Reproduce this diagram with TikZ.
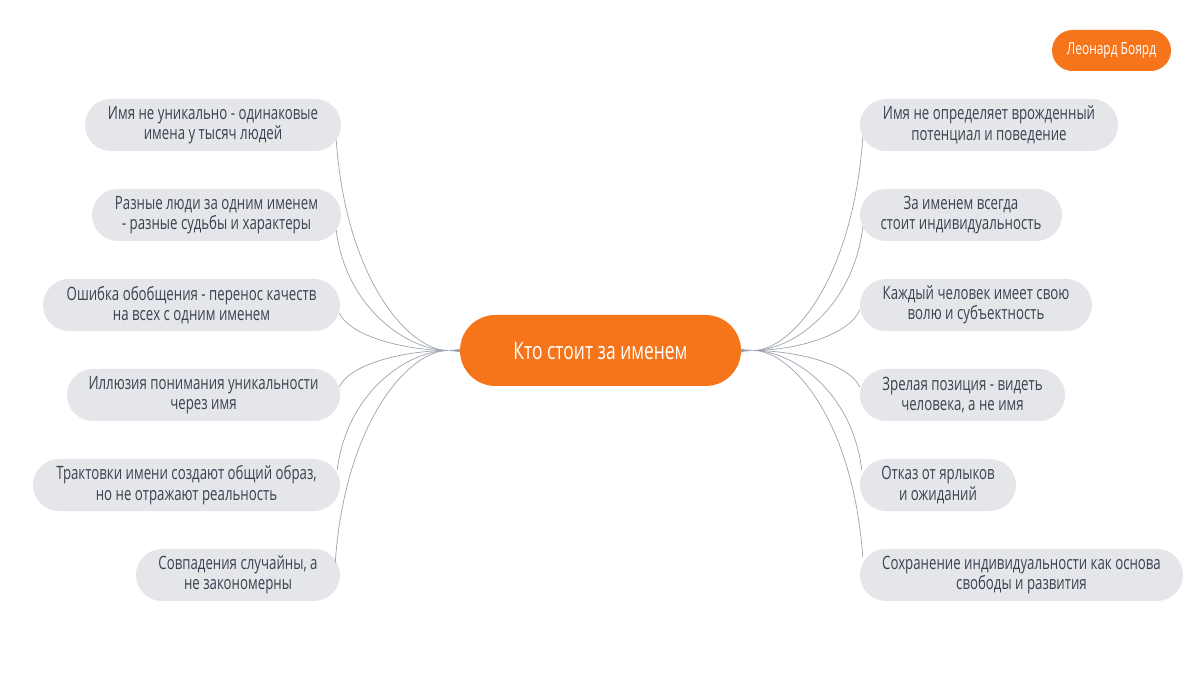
\documentclass[tikz,border=0pt]{standalone}
\usepackage{fontspec}
\setmainfont{Open Sans}[FakeStretch=0.72]
\usetikzlibrary{calc}
\definecolor{boxfill}{HTML}{E5E6EA}
\definecolor{boxtext}{HTML}{3C4150}
\definecolor{orange}{HTML}{F7751A}
\definecolor{conncol}{HTML}{9EA3B1}
\tikzset{
  leaf/.style={fill=boxfill, text=boxtext, rounded corners=26pt, minimum height=52pt,
    inner sep=0pt, align=center, font=\fontsize{18.4}{20.5}\selectfont},
  root/.style={fill=orange, text=white, rounded corners=35.5pt, minimum height=71pt,
    minimum width=281pt, inner sep=0pt, align=center, font=\fontsize{24.2}{27}\selectfont},
  author/.style={fill=orange, text=white, rounded corners=20.5pt, minimum height=41pt,
    minimum width=119pt, inner sep=0pt, align=center, font=\fontsize{16.6}{19}\selectfont},
  conn/.style={draw=conncol, line width=0.7pt},
}
\begin{document}
\begin{tikzpicture}[x=1pt,y=-1pt]
\useasboundingbox[fill=white] (0,0) rectangle (1200,700);
% root and author
\node[root] (C) at (600.5,350.5) {Кто стоит за именем};
\node[author] (A) at (1111.5,50.5) {Леонард Боярд};
% left leaves
\node[leaf, minimum width=256pt] (L1) at (213,125) {Имя не уникально - одинаковые\\имена у тысяч людей};
\node[leaf, minimum width=249pt] (L2) at (216.5,215) {Разные люди за одним именем\\- разные судьбы и характеры};
\node[leaf, minimum width=297pt] (L3) at (191.5,305) {Ошибка обобщения - перенос качеств\\на всех с одним именем};
\node[leaf, minimum width=273pt] (L4) at (203.5,395) {Иллюзия понимания уникальности\\через имя};
\node[leaf, minimum width=307pt] (L5) at (186.5,485) {Трактовки имени создают общий образ,\\но не отражают реальность};
\node[leaf, minimum width=204pt] (L6) at (238,575) {Совпадения случайны, а\\не закономерны};
% right leaves
\node[leaf, minimum width=258pt] (R1) at (989,125) {Имя не определяет врожденный\\потенциал и поведение};
\node[leaf, minimum width=202pt] (R2) at (961,215) {За именем всегда\\стоит индивидуальность};
\node[leaf, minimum width=232pt] (R3) at (976,305) {Каждый человек имеет свою\\волю и субъектность};
\node[leaf, minimum width=205pt] (R4) at (962.5,395) {Зрелая позиция - видеть\\человека, а не имя};
\node[leaf, minimum width=156pt] (R5) at (938,485) {Отказ от ярлыков\\и ожиданий};
\node[leaf, minimum width=323pt] (R6) at (1021.5,575) {Сохранение индивидуальности как основа\\свободы и развития};
% junctions
\coordinate (jl) at ($(C.west)+(-12,0)$);
\coordinate (jr) at ($(C.east)+(12,0)$);
\fill[conncol] ($(C.west)+(0,-1.6)$) -- (jl) -- ($(C.west)+(0,1.6)$) -- cycle;
\fill[conncol] ($(C.east)+(0,-1.6)$) -- (jr) -- ($(C.east)+(0,1.6)$) -- cycle;
% attach points
\coordinate (a1) at ($(L1.east)+(-5,15)$);
\coordinate (a2) at ($(L2.east)+(-5,15)$);
\coordinate (a3) at ($(L3.east)+(-1,8)$);
\coordinate (a4) at ($(L4.east)+(-1,-8)$);
\coordinate (a5) at ($(L5.east)+(-3,-15)$);
\coordinate (a6) at ($(L6.east)+(-5,-12)$);
\coordinate (b1) at ($(R1.west)+(3,12)$);
\coordinate (b2) at ($(R2.west)+(3,12)$);
\coordinate (b3) at ($(R3.west)+(0,5)$);
\coordinate (b4) at ($(R4.west)+(0,-8)$);
\coordinate (b5) at ($(R5.west)+(2,-15)$);
\coordinate (b6) at ($(R6.west)+(3,-18)$);
% connectors left
\draw[conn] (a1) .. controls +(10,141) and +(-38,0) .. (jl);
\draw[conn] (a2) .. controls +(10,80) and +(-38,0) .. (jl);
\draw[conn] (a3) .. controls +(12,25) and +(-38,0) .. (jl);
\draw[conn] (a4) .. controls +(12,-25) and +(-38,0) .. (jl);
\draw[conn] (a5) .. controls +(10,-80) and +(-38,0) .. (jl);
\draw[conn] (a6) .. controls +(10,-143) and +(-38,0) .. (jl);
% connectors right
\draw[conn] (b1) .. controls +(-10,143) and +(38,0) .. (jr);
\draw[conn] (b2) .. controls +(-10,82) and +(38,0) .. (jr);
\draw[conn] (b3) .. controls +(-12,27) and +(38,0) .. (jr);
\draw[conn] (b4) .. controls +(-12,-25) and +(38,0) .. (jr);
\draw[conn] (b5) .. controls +(-10,-80) and +(38,0) .. (jr);
\draw[conn] (b6) .. controls +(-10,-138) and +(38,0) .. (jr);
\end{tikzpicture}
\end{document}
